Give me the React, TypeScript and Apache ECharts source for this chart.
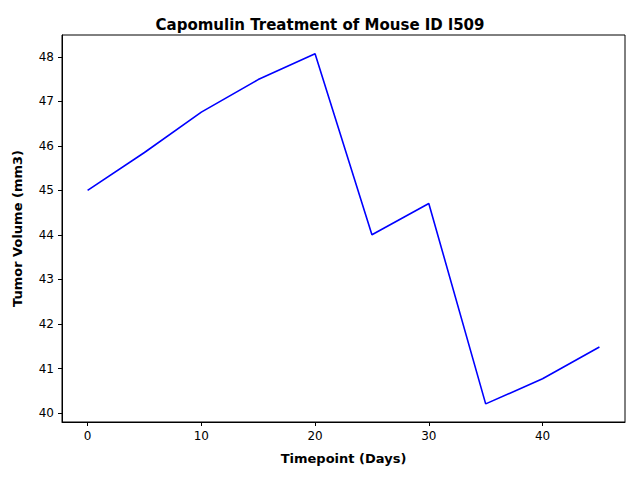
import { useEffect, useRef } from 'react';
import * as echarts from 'echarts';

const timepoints = [0, 5, 10, 15, 20, 25, 30, 35, 40, 45];
const tumorVolume = [45.0, 45.851, 46.759, 47.489, 48.070, 44.006, 44.708, 40.207, 40.771, 41.483];
const xTicks = [0, 10, 20, 30, 40];
const yTicks = [40, 41, 42, 43, 44, 45, 46, 47, 48];

export default function App() {
  const ref = useRef<HTMLDivElement>(null);

  useEffect(() => {
    if (!ref.current) return;
    const chart = echarts.init(ref.current, undefined, { renderer: 'svg' });
    const font = 'DejaVu Sans';
    chart.setOption({
      animation: false,
      backgroundColor: '#fff',
      title: {
        text: 'Capomulin Treatment of Mouse ID l509',
        left: 'center',
        top: 12,
        textStyle: { fontFamily: font, fontSize: 15, fontWeight: 'bold', color: '#000' },
      },
      grid: {
        left: 62, right: 15, top: 35, bottom: 58,
        show: true, borderColor: '#000', borderWidth: 1,
      },
      xAxis: {
        type: 'value',
        min: -2.25,
        max: 47.25,
        name: 'Timepoint (Days)',
        nameLocation: 'middle',
        nameGap: 30,
        nameTextStyle: { fontFamily: font, fontSize: 13, fontWeight: 'bold', color: '#000' },
        axisLine: { show: true, onZero: false, lineStyle: { color: '#000' } },
        axisTick: { show: true, inside: false, customValues: xTicks, length: 4, lineStyle: { color: '#000' } },
        axisLabel: { customValues: xTicks, fontFamily: font, fontSize: 12, color: '#000', margin: 8 },
        splitLine: { show: false },
      },
      yAxis: {
        type: 'value',
        min: 39.8,
        max: 48.49,
        name: 'Tumor Volume (mm3)',
        nameLocation: 'middle',
        nameGap: 38,
        nameTextStyle: { fontFamily: font, fontSize: 13, fontWeight: 'bold', color: '#000' },
        axisLine: { show: true, onZero: false, lineStyle: { color: '#000' } },
        axisTick: { show: true, inside: false, customValues: yTicks, length: 4, lineStyle: { color: '#000' } },
        axisLabel: { customValues: yTicks, fontFamily: font, fontSize: 12, color: '#000', margin: 8 },
        splitLine: { show: false },
      },
      series: [{
        type: 'line',
        data: timepoints.map((t, i) => [t, tumorVolume[i]]),
        showSymbol: false,
        lineStyle: { color: '#0000ff', width: 1.6 },
      }],
    });
    return () => chart.dispose();
  }, []);

  return <div ref={ref} style={{ width: 640, height: 480, margin: -8 }} />;
}
